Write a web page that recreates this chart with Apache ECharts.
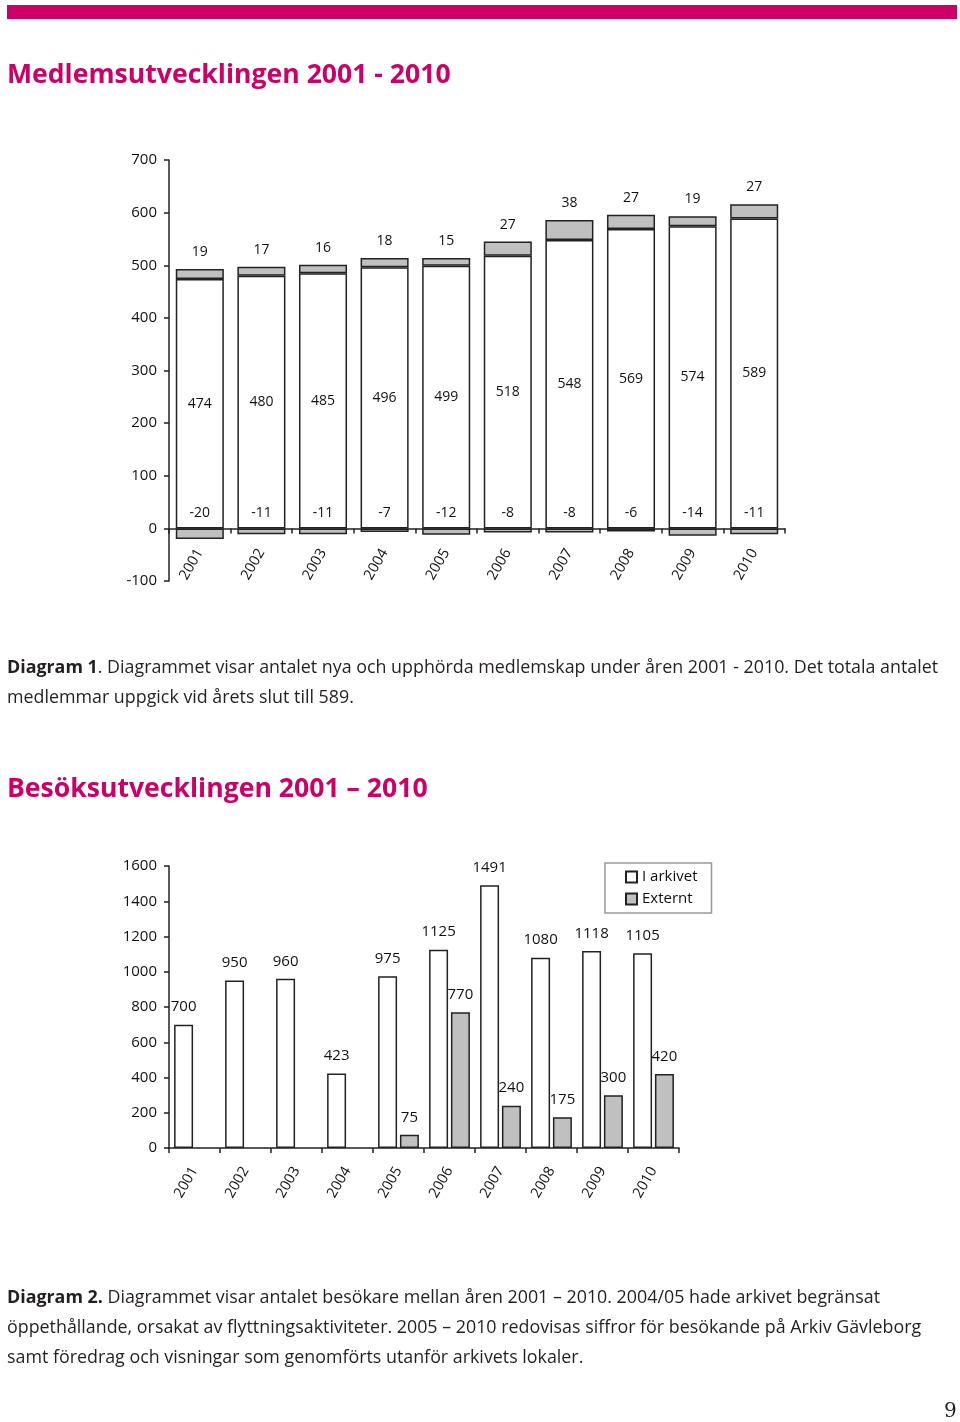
<!DOCTYPE html>
<html>
<head>
<meta charset="utf-8">
<script src="https://cdn.jsdelivr.net/npm/echarts@6/dist/echarts.min.js"></script>
<style>
    body { margin: 0; background: #fff; font-family: "Open Sans", sans-serif; }
    #page { position: relative; width: 960px; height: 1422px; overflow: hidden; }
    .top-bar { position: absolute; left: 7px; top: 5px; width: 950px; height: 14px; background: #cc0066; }
    .title { position: absolute; left: 7px; color: #cc0066; font-weight: bold; font-size: 26.6px; line-height: 34px; white-space: nowrap; }
    .caption { position: absolute; left: 7px; font-size: 17.85px; line-height: 30px; color: #231f20; white-space: nowrap; }
    .page-no { position: absolute; left: 944px; top: 1398px; font-family: "DejaVu Serif", serif; font-size: 20px; color: #231f20; }
    #chart { position: absolute; left: 0; top: 0; width: 960px; height: 1422px; }
</style>
</head>
<body>
<div id="page">
    <div id="chart"></div>
    <div class="top-bar"></div>
    <div class="title" style="top:56px;">Medlemsutvecklingen 2001 - 2010</div>
    <div class="caption" style="top:651px;"><b>Diagram 1</b>. Diagrammet visar antalet nya och upphörda medlemskap under åren 2001 - 2010. Det totala antalet<br>medlemmar uppgick vid årets slut till 589.</div>
    <div class="title" style="top:770px;">Besöksutvecklingen 2001 – 2010</div>
    <div class="caption" style="top:1281px;"><b>Diagram 2.</b> Diagrammet visar antalet besökare mellan åren 2001 – 2010. 2004/05 hade arkivet begränsat<br>öppethållande, orsakat av flyttningsaktiviteter. 2005 – 2010 redovisas siffror för besökande på Arkiv Gävleborg<br>samt föredrag och visningar som genomförts utanför arkivets lokaler.</div>
    <div class="page-no">9</div>
</div>
<script>
// kategorier
const years = ['2001', '2002', '2003', '2004', '2005', '2006', '2007', '2008', '2009', '2010'];

// diagram 1: medlemmar
const members = [474, 480, 485, 496, 499, 518, 548, 569, 574, 589];
const joined = [19, 17, 16, 18, 15, 27, 38, 27, 19, 27];
const leftMembers = [-20, -11, -11, -7, -12, -8, -8, -6, -14, -11];

// diagram 2: besök
const visitsInside = [700, 950, 960, 423, 975, 1125, 1491, 1080, 1118, 1105];
const visitsExternal = [null, null, null, null, 75, 770, 240, 175, 300, 420];
const legendNames = ['I arkivet', 'Externt'];

const gray = '#c0c0c0';
const line = '#222';
const font = '"Open Sans", sans-serif';

const axisLine = { show: true, lineStyle: { color: line, width: 1.5 } };
const axisTick = { show: true, length: 5, lineStyle: { color: line, width: 1.5 } };
const axisLabel = { color: '#111', fontSize: 14, fontFamily: font };
const yLabel = { ...axisLabel, fontSize: 15, margin: 12, formatter: v => String(v) };

const chart = echarts.init(document.getElementById('chart'));

const option = {
    animation: false,
    grid: [
        { left: 169, top: 160, width: 616, height: 421, containLabel: false },
        { left: 169, top: 866, width: 510, height: 282, containLabel: false }
    ],
    legend: {
        data: legendNames,
        orient: 'vertical',
        left: 605,
        top: 863,
        padding: [6, 14, 6, 20],
        itemWidth: 11,
        itemHeight: 11,
        itemGap: 6,
        icon: 'rect',
        borderColor: '#999',
        borderWidth: 1.5,
        borderRadius: 0,
        textStyle: { color: '#111', fontSize: 15, fontFamily: font, lineHeight: 16 }
    },
    xAxis: [
        {
            type: 'category', gridIndex: 0, data: years,
            axisLine: { ...axisLine, onZero: true },
            axisTick: axisTick,
            axisLabel: { ...axisLabel, fontSize: 14.5, rotate: 60, margin: -31, interval: 0 },
            splitLine: { show: false }
        },
        {
            type: 'category', gridIndex: 1, data: years,
            axisLine: axisLine,
            axisTick: axisTick,
            axisLabel: { ...axisLabel, fontSize: 14.5, rotate: 60, margin: 20, interval: 0 },
            splitLine: { show: false }
        }
    ],
    yAxis: [
        {
            type: 'value', gridIndex: 0, min: -100, max: 700, interval: 100,
            axisLine: axisLine, axisTick: axisTick,
            axisLabel: yLabel,
            splitLine: { show: false }
        },
        {
            type: 'value', gridIndex: 1, min: 0, max: 1600, interval: 200,
            axisLine: axisLine, axisTick: axisTick,
            axisLabel: yLabel,
            splitLine: { show: false }
        }
    ],
    series: [
        {
            name: 'Medlemmar', type: 'bar', xAxisIndex: 0, yAxisIndex: 0, stack: 'm',
            data: members, barCategoryGap: '22%',
            itemStyle: { color: '#fff', borderColor: line, borderWidth: 1.5 },
            label: { show: true, position: 'inside', color: '#111', fontSize: 14, fontFamily: font }
        },
        {
            name: 'Nya', type: 'bar', xAxisIndex: 0, yAxisIndex: 0, stack: 'm',
            data: joined,
            itemStyle: { color: gray, borderColor: line, borderWidth: 1.5 },
            label: { show: true, position: 'top', distance: 10, color: '#111', fontSize: 14, fontFamily: font }
        },
        {
            name: 'Upphörda', type: 'bar', xAxisIndex: 0, yAxisIndex: 0, stack: 'm',
            data: leftMembers,
            itemStyle: { color: gray, borderColor: line, borderWidth: 1.5 },
            label: { show: true, position: 'top', distance: 8, color: '#111', fontSize: 14, fontFamily: font }
        },
        {
            name: legendNames[0], type: 'bar', xAxisIndex: 1, yAxisIndex: 1,
            data: visitsInside, barCategoryGap: '20%', barGap: '15%',
            itemStyle: { color: '#fff', borderColor: line, borderWidth: 1.5 },
            label: { show: true, position: 'top', distance: 10, color: '#111', fontSize: 15, fontFamily: font }
        },
        {
            name: legendNames[1], type: 'bar', xAxisIndex: 1, yAxisIndex: 1,
            data: visitsExternal, barCategoryGap: '20%', barGap: '15%',
            itemStyle: { color: gray, borderColor: line, borderWidth: 1.5 },
            label: { show: true, position: 'top', distance: 10, color: '#111', fontSize: 15, fontFamily: font }
        }
    ]
};

chart.setOption(option);
</script>
</body>
</html>
